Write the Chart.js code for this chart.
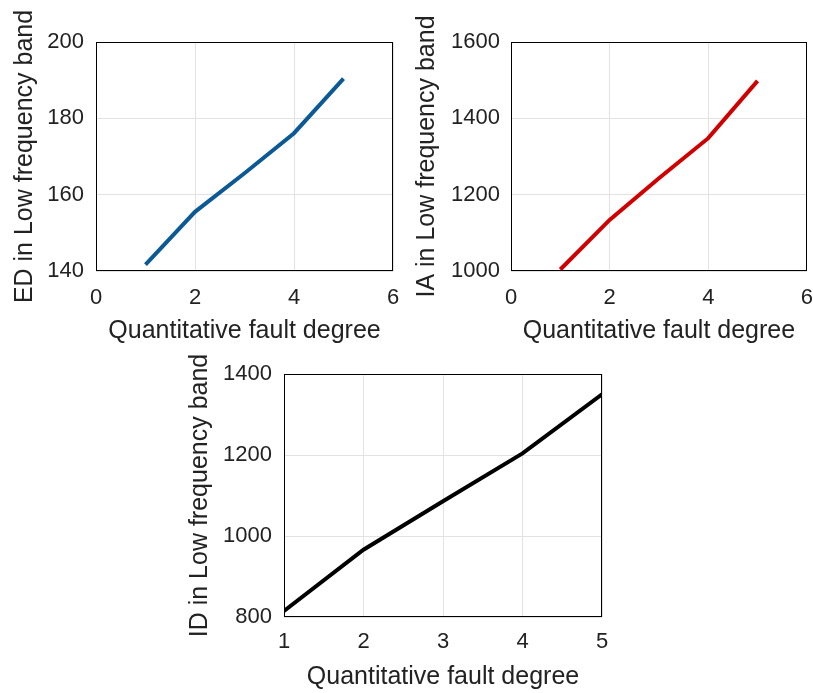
<!DOCTYPE html>
<html>
<head>
<meta charset="utf-8">
<script src="https://cdn.jsdelivr.net/npm/chart.js@4"></script>
<style>
  body { margin: 0; background: #fff; }
  #wrap { position: relative; width: 813px; height: 693px; }
  canvas { position: absolute; }
</style>
</head>
<body>
<div id="wrap">
  <canvas id="ed" width="410" height="350" style="left:0px;top:0px"></canvas>
  <canvas id="ia" width="410" height="350" style="left:403px;top:0px"></canvas>
  <canvas id="id" width="440" height="348" style="left:176px;top:345px"></canvas>
</div>
<script>
const degree = [1, 2, 3, 4, 5];
const edValues = [141.7, 155.5, 165.6, 176.1, 190.4];
const iaValues = [1004, 1134, 1243, 1348, 1498];
const idValues = [815, 966, 1086, 1204, 1350];

const xTitle = 'Quantitative fault degree';
const fontFamily = '"Liberation Sans", Arial, sans-serif';
const textColor = '#222';

// draw the full box round the plot, like matlab does
const boxPlugin = {
  id: 'box',
  afterDatasetsDraw(chart) {
    const a = chart.chartArea;
    const c = chart.ctx;
    c.save();
    c.strokeStyle = '#000';
    c.lineWidth = 1;
    c.strokeRect(Math.round(a.left) + 0.5, Math.round(a.top) + 0.5,
      Math.round(a.right - a.left) - 1, Math.round(a.bottom - a.top) - 1);
    c.restore();
  }
};

function makeChart(id, values, color, o) {
  const pts = degree.map((d, i) => ({x: d, y: values[i]}));
  return new Chart(document.getElementById(id), {
    type: 'line',
    data: {
      datasets: [{
        data: pts,
        borderColor: color,
        borderWidth: 4,
        pointRadius: 0,
        tension: 0
      }]
    },
    options: {
      responsive: false,
      animation: false,
      layout: { padding: { top: o.top, right: o.right, left: 0, bottom: 0 } },
      plugins: { legend: { display: false }, tooltip: { enabled: false } },
      scales: {
        x: {
          type: 'linear',
          min: o.xmin, max: o.xmax,
          afterFit: s => { s.height = o.xh; },
          ticks: { stepSize: o.xstep, padding: 0, color: textColor, font: { family: fontFamily, size: 22 },
            callback: v => String(v) },
          // transparent tick marks just push the labels down
          grid: { color: '#e2e2e2', drawTicks: true, tickLength: o.xpad, tickColor: 'rgba(0,0,0,0)' },
          border: { display: false },
          title: { display: true, text: xTitle, color: textColor, padding: { top: 0, bottom: o.xtpad }, font: { family: fontFamily, size: 25 } }
        },
        y: {
          min: o.ymin, max: o.ymax,
          afterFit: s => { s.width = o.yw; },
          ticks: { stepSize: o.ystep, padding: o.ypad, color: textColor, font: { family: fontFamily, size: 22 },
            callback: v => String(v) },
          grid: { color: '#e2e2e2', drawTicks: false },
          border: { display: false },
          title: { display: true, text: o.ytitle, color: textColor, padding: { top: o.ytpad, bottom: 0 }, font: { family: fontFamily, size: 25 } }
        }
      }
    },
    plugins: [boxPlugin]
  });
}

makeChart('ed', edValues, '#0b5a96', {
  top: 42, right: 17, xh: 79, yw: 96, xmin: 0, xmax: 6, xstep: 2, ymin: 140, ymax: 200, ystep: 20,
  xpad: 14, ypad: 12, xtpad: 4, ytpad: 10, ytitle: 'ED in Low frequency band'
});
makeChart('ia', iaValues, '#d00000', {
  top: 42, right: 6, xh: 79, yw: 108, xmin: 0, xmax: 6, xstep: 2, ymin: 1000, ymax: 1600, ystep: 200,
  xpad: 14, ypad: 11, xtpad: 4, ytpad: 9, ytitle: 'IA in Low frequency band'
});
makeChart('id', idValues, '#000000', {
  top: 29, right: 14, xh: 76, yw: 108, xmin: 1, xmax: 5, xstep: 1, ymin: 800, ymax: 1400, ystep: 200,
  xpad: 12, ypad: 12, xtpad: 1, ytpad: 9, ytitle: 'ID in Low frequency band'
});
</script>
</body>
</html>
